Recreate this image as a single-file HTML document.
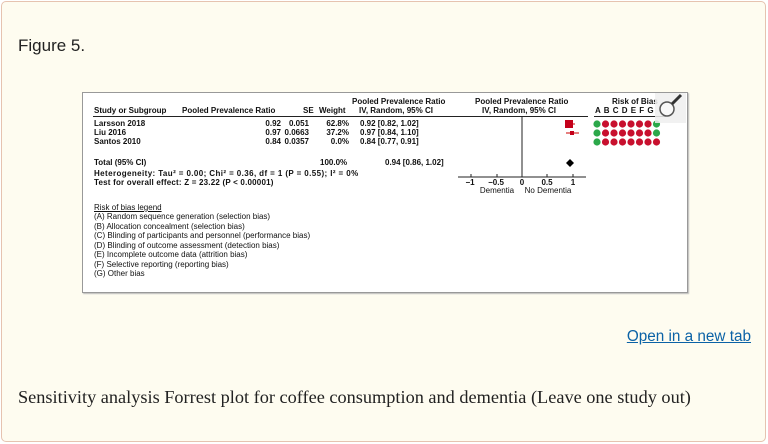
<!DOCTYPE html>
<html><head><style>
body{margin:0;width:768px;height:444px;background:#fff;position:relative;overflow:hidden}
.outer{position:absolute;left:1px;top:1px;width:763px;height:439px;border:1px solid #e6c3b0;border-radius:5px;background:#fefcf0}
.t{position:absolute;font-family:"Liberation Sans",sans-serif;font-size:8px;font-weight:bold;color:#111;white-space:nowrap;line-height:9px}
.n{font-weight:normal;font-size:8px}
.r{text-align:right}
</style></head><body>
<div class="outer"></div>
<div style="position:absolute;left:18px;top:36px;font-family:'Liberation Sans',sans-serif;font-size:17px;color:#222">Figure 5.</div>
<div style="position:absolute;left:82px;top:92px;width:604px;height:199px;background:#fff;border:1px solid #999;box-shadow:1px 1px 1px #bbb"></div>

<div class="t" style="left:352px;top:97px">Pooled Prevalence Ratio</div>
<div class="t" style="left:475px;top:97px">Pooled Prevalence Ratio</div>
<div class="t" style="left:612px;top:97px">Risk of Bias</div>
<div class="t" style="left:94px;top:106px">Study or Subgroup</div>
<div class="t" style="left:182px;top:106px">Pooled Prevalence Ratio</div>
<div class="t" style="left:303px;top:106px">SE</div>
<div class="t" style="left:319px;top:106px">Weight</div>
<div class="t" style="left:359px;top:106px">IV, Random, 95% CI</div>
<div class="t" style="left:482px;top:106px">IV, Random, 95% CI</div>
<div class="t" style="left:595px;top:106px;word-spacing:1px">A B C D E F G</div>
<div style="position:absolute;left:93px;top:116px;width:495px;height:1px;background:#222"></div>
<div style="position:absolute;left:594px;top:116px;width:72px;height:1px;background:#222"></div>

<div class="t" style="left:94px;top:119px">Larsson 2018</div>
<div class="t" style="left:94px;top:128px">Liu 2016</div>
<div class="t" style="left:94px;top:137px">Santos 2010</div>
<div class="t r" style="left:240px;top:119px;width:41px">0.92<br>0.97<br>0.84</div>
<div class="t r" style="left:270px;top:119px;width:39px">0.051<br>0.0663<br>0.0357</div>
<div class="t r" style="left:310px;top:119px;width:39px">62.8%<br>37.2%<br>0.0%</div>
<div class="t" style="left:360px;top:119px">0.92 [0.82, 1.02]<br>0.97 [0.84, 1.10]<br>0.84 [0.77, 0.91]</div>
<div class="t" style="left:94px;top:158px">Total (95% CI)</div>
<div class="t" style="left:320px;top:158px">100.0%</div>
<div class="t" style="left:385px;top:158px">0.94 [0.86, 1.02]</div>
<div class="t" style="left:94px;top:169px;letter-spacing:0.4px">Heterogeneity: Tau² = 0.00; Chi² = 0.36, df = 1 (P = 0.55); I² = 0%</div>
<div class="t" style="left:94px;top:178px;letter-spacing:0.2px">Test for overall effect: Z = 23.22 (P &lt; 0.00001)</div>

<svg style="position:absolute;left:0;top:0" width="768" height="444">
<line x1="522" y1="117" x2="522" y2="177" stroke="#222" stroke-width="1"/>
<line x1="458" y1="177" x2="586" y2="177" stroke="#222" stroke-width="1"/>
<g stroke="#222"><line x1="471" y1="174" x2="471" y2="177"/><line x1="497" y1="174" x2="497" y2="177"/><line x1="547" y1="174" x2="547" y2="177"/><line x1="573" y1="174" x2="573" y2="177"/></g>
<g font-family="Liberation Sans" font-size="8" font-weight="bold" fill="#111" text-anchor="middle">
<text x="470" y="185">−1</text><text x="496" y="185">−0.5</text><text x="522" y="185">0</text><text x="547" y="185">0.5</text><text x="573" y="185">1</text>
<text x="497" y="193" font-weight="normal">Dementia</text><text x="548" y="193" font-weight="normal">No Dementia</text>
</g>
<line x1="566" y1="124" x2="575" y2="124" stroke="#c00" stroke-width="1"/>
<rect x="565" y="120" width="8" height="8" fill="#c4001a"/>
<line x1="566" y1="133" x2="579" y2="133" stroke="#c00" stroke-width="1"/>
<rect x="570" y="131" width="4" height="4" fill="#c4001a"/>
<polygon points="566,163 570,159 574,163 570,167" fill="#000"/>
<g>
<circle cx="597" cy="124" r="3.6" fill="#2ca84a"/>
<circle cx="605.5" cy="124" r="3.6" fill="#c8102e"/><circle cx="614" cy="124" r="3.6" fill="#c8102e"/><circle cx="622.5" cy="124" r="3.6" fill="#c8102e"/><circle cx="631" cy="124" r="3.6" fill="#c8102e"/><circle cx="639.5" cy="124" r="3.6" fill="#c8102e"/><circle cx="648" cy="124" r="3.6" fill="#c8102e"/><circle cx="656.5" cy="124" r="3.6" fill="#2ca84a"/>
<circle cx="597" cy="133" r="3.6" fill="#2ca84a"/>
<circle cx="605.5" cy="133" r="3.6" fill="#c8102e"/><circle cx="614" cy="133" r="3.6" fill="#c8102e"/><circle cx="622.5" cy="133" r="3.6" fill="#c8102e"/><circle cx="631" cy="133" r="3.6" fill="#c8102e"/><circle cx="639.5" cy="133" r="3.6" fill="#c8102e"/><circle cx="648" cy="133" r="3.6" fill="#c8102e"/><circle cx="656.5" cy="133" r="3.6" fill="#2ca84a"/>
<circle cx="597" cy="142" r="3.6" fill="#2ca84a"/>
<circle cx="605.5" cy="142" r="3.6" fill="#c8102e"/><circle cx="614" cy="142" r="3.6" fill="#c8102e"/><circle cx="622.5" cy="142" r="3.6" fill="#c8102e"/><circle cx="631" cy="142" r="3.6" fill="#c8102e"/><circle cx="639.5" cy="142" r="3.6" fill="#c8102e"/><circle cx="648" cy="142" r="3.6" fill="#c8102e"/><circle cx="656.5" cy="142" r="3.6" fill="#c8102e"/>
</g>
<rect x="655" y="93" width="31" height="30" fill="#eee" opacity="0.85"/>
<circle cx="667" cy="109" r="7" fill="#fff" fill-opacity="0.6" stroke="#555" stroke-width="1.5"/>
<line x1="672" y1="104" x2="681" y2="95" stroke="#333" stroke-width="3"/>
</svg>

<div class="t n" style="left:94px;top:203px;text-decoration:underline">Risk of bias legend</div>
<div class="t n" style="left:94px;top:212px;line-height:9.5px">(A) Random sequence generation (selection bias)<br>(B) Allocation concealment (selection bias)<br>(C) Blinding of participants and personnel (performance bias)<br>(D) Blinding of outcome assessment (detection bias)<br>(E) Incomplete outcome data (attrition bias)<br>(F) Selective reporting (reporting bias)<br>(G) Other bias</div>

<div style="position:absolute;right:17px;top:328px;font-family:'Liberation Sans',sans-serif;font-size:15.3px;color:#0b62a6;text-decoration:underline">Open in a new tab</div>
<div style="position:absolute;left:18px;top:387px;font-family:'Liberation Serif',serif;font-size:18.3px;color:#222">Sensitivity analysis Forrest plot for coffee consumption and dementia (Leave one study out)</div>
</body></html>
